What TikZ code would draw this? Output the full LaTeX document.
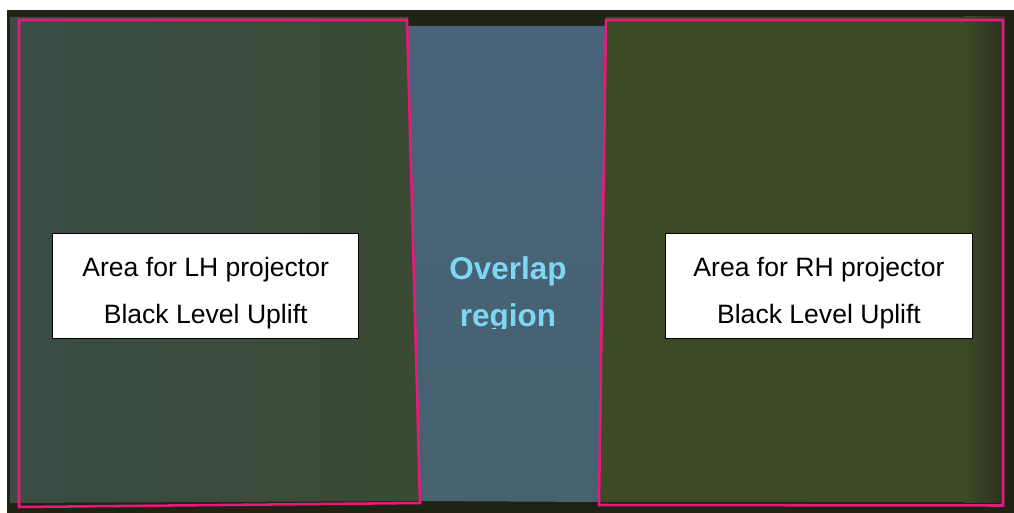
\documentclass[tikz,border=0pt]{standalone}
\usepackage{fontspec}
\setmainfont{Liberation Sans}
\usepackage{tikz}

\definecolor{pinkline}{HTML}{E8197A}
\definecolor{screendark}{HTML}{1F2313}
\definecolor{lhblue}{HTML}{3A4C45}
\definecolor{lhgreen}{HTML}{3A4A33}
\definecolor{midtop}{HTML}{48637A}
\definecolor{midbottom}{HTML}{45626E}
\definecolor{rhgreen}{HTML}{3C4A26}
\definecolor{rhdark}{HTML}{2A3020}
\definecolor{overlapblue}{HTML}{7DD6F5}

\begin{document}
\begin{tikzpicture}[scale=0.25]
\tikzstyle{every node}+=[inner sep=0pt]
\tikzstyle{area}=[pinkline, line width=1.8pt, line join=miter]
\tikzstyle{labelbox}=[draw=black, fill=white, line width=0.6pt, minimum width=7.66cm, align=center, font=\fontsize{18.9}{33.4}\selectfont]
\useasboundingbox (0,0) rectangle (101.4,-51.3);
\fill [white] (0,0) rectangle (101.4,-51.3);
\fill [screendark] (0.7,-1.0) rectangle (101.4,-51.3);
\shade [left color=lhblue, right color=lhgreen] (1.0,-1.7) -- (40.8,-1.7) -- (41.9,-50.1) -- (1.0,-50.3) -- cycle;
\shade [top color=midtop, bottom color=midbottom] (40.8,-2.6) -- (60.6,-2.6) -- (60.0,-50.2) -- (41.9,-50.1) -- cycle;
\fill [rhgreen] (60.6,-1.7) -- (96.5,-1.7) -- (96.5,-50.2) -- (60.0,-50.2) -- cycle;
\shade [left color=rhgreen, right color=rhdark] (96.4,-1.7) rectangle (100.5,-50.2);
\draw [area] (1.9,-2.0) -- (40.7,-2.0) -- (42.0,-50.3) -- (1.9,-50.7) -- cycle;
\draw [area] (60.6,-2.0) -- (100.3,-2.0) -- (100.3,-50.55) -- (59.9,-50.5) -- cycle;
\node (lhbox) at (20.57,-28.55) [labelbox] {\rule{0pt}{31.3pt}Area for LH projector\\Black Level Uplift\rule[-10pt]{0pt}{10pt}};
\node (rhbox) at (81.9,-28.55) [labelbox] {\rule{0pt}{31.3pt}Area for RH projector\\Black Level Uplift\rule[-10pt]{0pt}{10pt}};
\begin{scope}
\clip (41,-20) rectangle (60,-32.85);
\node (overlap) at (50.8,-29.36) [align=center, text=overlapblue, font=\fontsize{22.4}{33.4}\selectfont\bfseries] {\rule{0pt}{20pt}Overlap\\region\rule[-6pt]{0pt}{6pt}};
\end{scope}
\end{tikzpicture}
\end{document}
